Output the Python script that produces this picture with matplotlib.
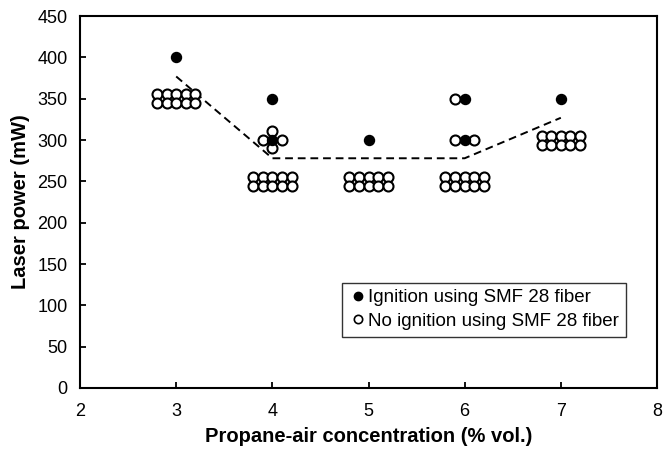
import matplotlib
matplotlib.use("Agg")
import matplotlib.pyplot as plt
from matplotlib.lines import Line2D

plt.rcParams["font.family"] = ["Liberation Sans", "DejaVu Sans"]

# ---------------------- DATA ----------------------
# ignition points (filled)
ign_x = [3, 4, 4, 5, 6, 6, 7]
ign_y = [400, 350, 300, 300, 350, 300, 350]

# no-ignition points (open); clusters of 10 drawn as 2 rows x 5 columns
cluster_x = [3, 4, 5, 6, 7]
cluster_y = [350, 250, 250, 250, 300]
col_offsets = [-0.2, -0.1, 0.0, 0.1, 0.2]
row_offsets = [5.5, -5.5]

# extra no-ignition points around the ignition points
extra_x = [3.9, 4.1, 4.0, 4.0, 5.9, 5.9, 6.1]
extra_y = [300, 300, 311, 290, 350, 300, 300]

# ignition threshold (dashed)
thr_x = [3, 4, 6, 7]
thr_y = [377, 278, 278, 327]

x_ticks = [2, 3, 4, 5, 6, 7, 8]
y_ticks = list(range(0, 451, 50))

fig = plt.figure(figsize=(6.67, 4.49), dpi=100)
ax = fig.add_axes([0.12, 0.136, 0.865, 0.828])

ax.plot(thr_x, thr_y, linestyle=(0, (4, 2.5)), color="black", linewidth=1.4, zorder=2)

open_x, open_y = [], []
for cx, cy in zip(cluster_x, cluster_y):
    for dy in row_offsets:
        for dx in col_offsets:
            open_x.append(cx + dx)
            open_y.append(cy + dy)
open_x += extra_x
open_y += extra_y

ax.plot(open_x, open_y, linestyle="none", marker="o", markersize=7.2,
        markerfacecolor="white", markeredgecolor="black", markeredgewidth=1.5, zorder=3)
ax.plot(ign_x, ign_y, linestyle="none", marker="o", markersize=7.2,
        markerfacecolor="black", markeredgecolor="black", zorder=4)

ax.set_xlim(2, 8)
ax.set_ylim(0, 450)
ax.set_xticks(x_ticks)
ax.set_yticks(y_ticks)
ax.tick_params(direction="in", length=4, width=1.3, labelsize=13)
ax.tick_params(axis="x", pad=11)
ax.tick_params(axis="y", pad=9)
for s in ax.spines.values():
    s.set_linewidth(1.5)

ax.set_xlabel("Propane-air concentration (% vol.)", fontsize=14.5, fontweight="bold", labelpad=5)
ax.set_ylabel("Laser power (mW)", fontsize=14.5, fontweight="bold", labelpad=5)

handles = [
    Line2D([], [], linestyle="none", marker="o", markersize=6,
           markerfacecolor="black", markeredgecolor="black"),
    Line2D([], [], linestyle="none", marker="o", markersize=6,
           markerfacecolor="white", markeredgecolor="black", markeredgewidth=1.2),
]
leg = ax.legend(handles, ["Ignition using SMF 28 fiber", "No ignition using SMF 28 fiber"],
                loc="lower right", bbox_to_anchor=(0.962, 0.113), fontsize=13.5,
                frameon=True, fancybox=False, edgecolor="black",
                handletextpad=0.05, handlelength=1.0, borderpad=0.35, labelspacing=0.35)
leg.get_frame().set_linewidth(1.0)

fig.savefig("out.png", dpi=100)
